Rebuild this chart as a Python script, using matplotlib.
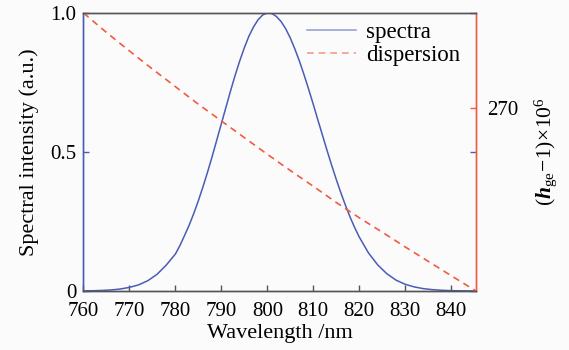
import matplotlib
matplotlib.use("Agg")
import matplotlib.pyplot as plt

# ---- data ----
wl_spec = [760, 762, 764, 766, 768, 770, 772, 774, 776, 778,
           780, 781, 782, 783, 784, 785, 786, 787, 788, 789,
           790, 791, 792, 793, 794, 795, 796, 797, 798, 799,
           800, 801, 802, 803, 804, 805, 806, 807, 808, 809,
           810, 811, 812, 813, 814, 815, 816, 817, 818, 819,
           820, 822, 824, 826, 828, 830, 832, 834, 836, 838,
           840, 842, 844, 845.4]
spectra = [0.0004, 0.0009, 0.0019, 0.0037, 0.0071, 0.013, 0.022, 0.037, 0.060, 0.093,
           0.133, 0.164, 0.200, 0.237, 0.279, 0.325, 0.375, 0.428, 0.484, 0.543,
           0.602, 0.661, 0.720, 0.776, 0.828, 0.875, 0.917, 0.950, 0.976, 0.993,
           1.0, 0.998, 0.987, 0.969, 0.943, 0.910, 0.870, 0.826, 0.777, 0.725,
           0.671, 0.615, 0.560, 0.505, 0.452, 0.401, 0.353, 0.308, 0.266, 0.228,
           0.194, 0.137, 0.094, 0.062, 0.039, 0.024, 0.0145, 0.0083, 0.0047, 0.0025,
           0.0013, 0.0006, 0.0003, 0.0001]

wl_disp = [760, 765, 770, 775, 780, 785, 790, 795, 800, 805, 810, 815, 820, 825, 830,
           835, 840, 845.4]
dispersion = [272.05, 271.63, 271.23, 270.84, 270.46, 270.08, 269.72, 269.36, 269.00,
              268.65, 268.31, 267.96, 267.63, 267.32, 267.00, 266.69, 266.38, 266.05]

x_ticks = [760, 770, 780, 790, 800, 810, 820, 830, 840]
y_ticks = [0, 0.5, 1.0]
y_ticklabels = ["0", "0.5", "1.0"]
r_ticks = [270]

# ---- style ----
bg = "#fbfbfb"
blue = "#4a5cb4"
red = "#f25a42"
dark = "#555555"
plt.rcParams["font.family"] = ["Liberation Serif", "DejaVu Serif"]
plt.rcParams["mathtext.fontset"] = "custom"
plt.rcParams["mathtext.rm"] = "Liberation Serif"
plt.rcParams["mathtext.it"] = "Liberation Serif:italic"
plt.rcParams["mathtext.bf"] = "Liberation Serif:italic:bold"

fs = 15

fig = plt.figure(figsize=(5.69, 3.5), dpi=100, facecolor=bg)
ax = fig.add_axes([0.1467, 0.1686, 0.6899, 0.7943], facecolor=bg)
ax2 = ax.twinx()

l1, = ax.plot(wl_spec, spectra, color=blue, lw=1.1, label="spectra")
l2, = ax2.plot(wl_disp, dispersion, color=red, lw=1.2, ls=(0, (4, 3)), label="dispersion")

ax.set_xlim(760, 845.4)
ax.set_ylim(0, 1.0)
ax2.set_ylim(266.05, 272.05)

ax.set_xticks(x_ticks)
ax.set_xticklabels([str(t) for t in x_ticks], fontsize=fs)
ax.set_yticks(y_ticks)
ax.set_yticklabels(y_ticklabels, fontsize=fs)
ax2.set_yticks(r_ticks)
ax2.set_yticklabels([str(t) for t in r_ticks], fontsize=fs)

ax.tick_params(axis="x", direction="in", length=4, color=dark, width=1, pad=8)
ax.tick_params(axis="y", direction="in", length=4, color=blue, width=1, pad=5, right=True)
ax2.tick_params(axis="y", direction="in", length=4, color=red, width=1, pad=8)

for a in (ax, ax2):
    a.spines["left"].set_color(blue)
    a.spines["bottom"].set_color(dark)
    a.spines["top"].set_color(dark)
    a.spines["right"].set_color(red)
    for s in a.spines.values():
        s.set_linewidth(1.0)

ax.set_xlabel("Wavelength /nm", fontsize=16, labelpad=2)
ax.set_ylabel("Spectral intensity (a.u.)", fontsize=16, labelpad=8)
ax2.set_ylabel(r"$(\mathbf{h}_{\rm ge}\!-\!1)\!\times\!10^6$", fontsize=15.5, labelpad=10)

leg = ax2.legend([l1, l2], ["spectra", "dispersion"], loc="upper right",
                 frameon=False, fontsize=16.5, handlelength=2.1, handletextpad=0.45,
                 labelspacing=0.1, borderaxespad=0.3, bbox_to_anchor=(1.0, 1.0255))
for h in leg.get_lines():
    h.set_alpha(0.6)

fig.savefig("out.png", dpi=100, facecolor=bg)
